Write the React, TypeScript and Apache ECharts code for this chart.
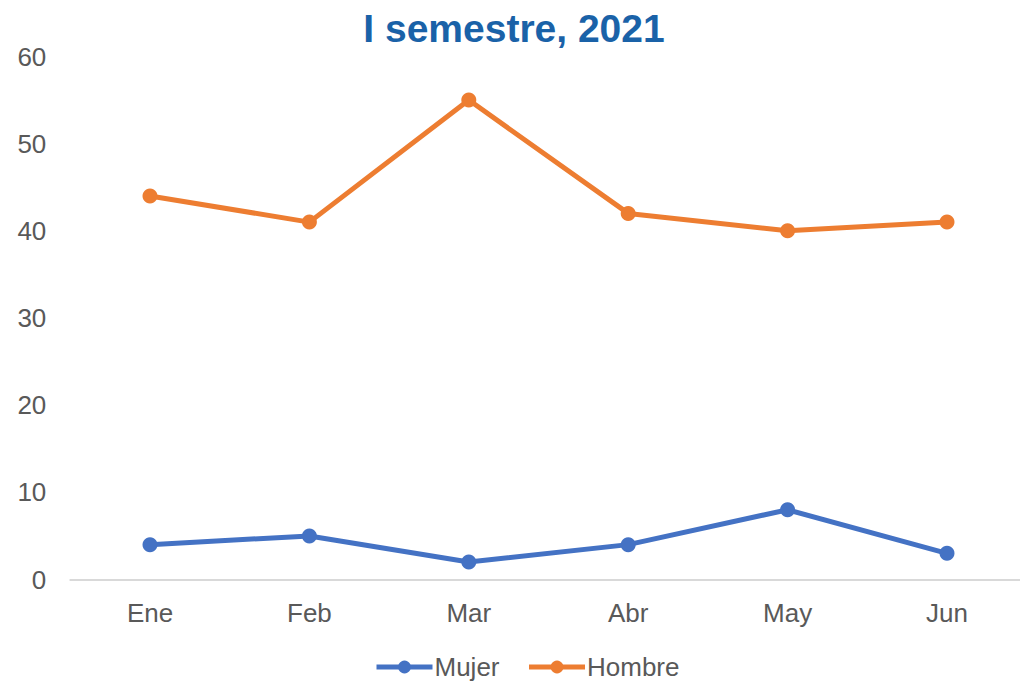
import React, { useEffect, useRef } from "react";
import * as echarts from "echarts";

const categories = ["Ene", "Feb", "Mar", "Abr", "May", "Jun"];
const mujer = [4, 5, 2, 4, 8, 3];
const hombre = [44, 41, 55, 42, 40, 41];
const titleText = "I semestre, 2021";

export default function App() {
  const ref = useRef<HTMLDivElement>(null);
  useEffect(() => {
    document.body.style.margin = "0";
    const chart = echarts.init(ref.current!, undefined, { renderer: "svg" });
    const font = "'Liberation Sans', Arial, sans-serif";
    chart.setOption({
      animation: false,
      backgroundColor: "#ffffff",
      title: {
        text: titleText,
        left: 514,
        textAlign: "center",
        top: 9,
        padding: 0,
        textStyle: { fontFamily: font, fontSize: 39, fontWeight: "bold", color: "#1A62A8" },
      },
      legend: {
        left: 374,
        top: 654,
        padding: 0,
        itemWidth: 56,
        itemHeight: 16,
        itemGap: 27,
        itemStyle: { borderWidth: 0 },
        lineStyle: { width: 5 },
        textStyle: { fontFamily: font, fontSize: 26, color: "#595959", padding: [0, 0, 0, -3] },
        data: ["Mujer", "Hombre"],
      },
      grid: { left: 70.3, width: 956.4, top: 56.5, bottom: 102.5, containLabel: false },
      xAxis: {
        type: "category",
        data: categories,
        boundaryGap: true,
        axisLine: { lineStyle: { color: "#D9D9D9", width: 2 } },
        axisTick: { show: false },
        axisLabel: { fontFamily: font, fontSize: 26, color: "#595959", margin: 20 },
      },
      yAxis: {
        type: "value",
        min: 0,
        max: 60,
        interval: 10,
        splitLine: { show: false },
        axisLine: { show: false },
        axisTick: { show: false },
        axisLabel: { fontFamily: font, fontSize: 26, color: "#595959", margin: 24 },
      },
      series: [
        {
          name: "Mujer",
          type: "line",
          data: mujer,
          symbol: "circle",
          symbolSize: 15,
          lineStyle: { width: 5, color: "#4472C4" },
          itemStyle: { color: "#4472C4" },
        },
        {
          name: "Hombre",
          type: "line",
          data: hombre,
          symbol: "circle",
          symbolSize: 15,
          lineStyle: { width: 5, color: "#ED7D31" },
          itemStyle: { color: "#ED7D31" },
        },
      ],
    });
    return () => chart.dispose();
  }, []);
  return (
    <div style={{ position: "absolute", left: 0, top: 0, width: 1020, height: 682, overflow: "hidden" }}>
      <div ref={ref} style={{ width: 1040, height: 682 }} />
    </div>
  );
}
